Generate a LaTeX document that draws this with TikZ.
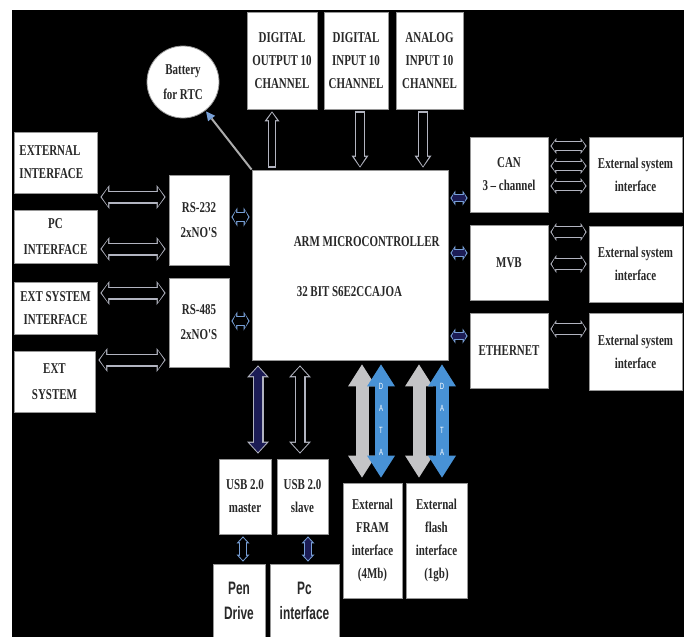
\documentclass[tikz,border=0pt]{standalone}
\usepackage{fontspec}
\newfontfamily\tfont{Liberation Serif}[FakeStretch=0.73]
\newfontfamily\sansc{Liberation Sans}[FakeStretch=0.66]
\usetikzlibrary{arrows.meta,calc}
\definecolor{edgec}{RGB}{178,180,192}
\definecolor{bluedge}{RGB}{120,160,215}
\definecolor{navyfill}{RGB}{28,28,85}
\definecolor{datagray}{RGB}{196,196,198}
\definecolor{datablue}{RGB}{72,146,214}
\definecolor{boxline}{RGB}{150,150,150}
\definecolor{txt}{RGB}{40,40,40}
% #1 gap, #2 direction, #3 from, #4 to, #5 shaft, #6 head width, #7 head length, #8 fill, #9 outline
\newcommand\blockarrow[9][0]{%
  \pgfmathsetmacro\baw{#5-2.6}%
  \pgfmathsetmacro\bah{#6-5}%
  \pgfmathsetmacro\bal{#7-2.6}%
  \pgfmathsetmacro\bag{#1+1.4}%
  \draw[#2, >={Triangle[length=#7pt,width=#6pt,line width=0pt]}, line width=#5pt, draw=#9,
        shorten <=#1pt, shorten >=#1pt] #3 -- #4;
  \draw[#2, >={Triangle[length=\bal pt,width=\bah pt,line width=0pt]}, line width=\baw pt, draw=#8,
        shorten <=\bag pt, shorten >=\bag pt] #3 -- #4;
}
\begin{document}
\begin{tikzpicture}[x=1pt,y=-1pt,
  box/.style={draw=boxline, line width=0.8pt, fill=white, inner sep=0pt, align=center, text=txt,
    font=\tfont\bfseries\fontsize{15}{23}\selectfont},
  sbox/.style={box, font=\sansc\bfseries\fontsize{18}{25}\selectfont},
  dataarrow/.style={<->, >={Triangle[length=22pt,width=28pt,line width=0pt]}, line width=13pt,
    shorten <=4pt, shorten >=5pt},
  letter/.style={text=white, font=\sansc\fontsize{9}{9}\selectfont, inner sep=0pt}]
\useasboundingbox (0,0) rectangle (686,637);
\fill[white] (0,0) rectangle (686,637);
\fill[black] (12,10) rectangle (684,637);

% ---------- boxes ----------
\node[box, minimum width=70, minimum height=97] (dout) at (282,60.5) {DIGITAL\\OUTPUT 10\\CHANNEL};
\node[box, minimum width=64, minimum height=97] (din) at (356,60.5) {DIGITAL\\INPUT 10\\CHANNEL};
\node[box, minimum width=67, minimum height=97] (ain) at (429.5,60.5) {ANALOG\\INPUT 10\\CHANNEL};
\node[box, circle, minimum size=72, font=\tfont\bfseries\fontsize{15}{25}\selectfont] (batt) at (183,82) {Battery\\for RTC};

\node[box, minimum width=83, minimum height=61, align=left, text width=72] (ext1) at (55.5,162.5) {EXTERNAL\\INTERFACE};
\node[box, minimum width=83, minimum height=53, font=\tfont\bfseries\fontsize{15}{26}\selectfont] (pc) at (55.5,236.5) {PC\\INTERFACE};
\node[box, minimum width=83, minimum height=52] (extsi) at (55.5,308) {EXT SYSTEM\\INTERFACE};
\node[box, minimum width=81, minimum height=61, font=\tfont\bfseries\fontsize{15}{26}\selectfont] (extsys) at (54.5,381.5) {EXT\\SYSTEM};

\node[box, minimum width=60, minimum height=90, font=\tfont\bfseries\fontsize{15}{25}\selectfont] (rs232) at (199,220) {RS-232\\2xNO'S};
\node[box, minimum width=60, minimum height=89, font=\tfont\bfseries\fontsize{15}{25}\selectfont] (rs485) at (199,322.5) {RS-485\\2xNO'S};

\node[box, minimum width=196, minimum height=190] (arm) at (350,265) {};
\node[anchor=west, text=txt, inner sep=0pt, font=\tfont\bfseries\fontsize{15}{23}\selectfont] (armt1) at ($(arm.west)+(42,-23)$) {ARM MICROCONTROLLER};
\node[anchor=west, text=txt, inner sep=0pt, font=\tfont\bfseries\fontsize{15}{23}\selectfont] (armt2) at ($(arm.west)+(45,27)$) {32 BIT S6E2CCAJOA};

\node[box, minimum width=78, minimum height=75] (can) at (509,174.5) {CAN\\3 – channel};
\node[box, minimum width=78, minimum height=75] (mvb) at (509,262.5) {MVB};
\node[box, minimum width=78, minimum height=75] (eth) at (509,350.5) {ETHERNET};
\node[box, minimum width=93, minimum height=75] (es1) at (635.5,174.5) {External system\\interface};
\node[box, minimum width=93, minimum height=76] (es2) at (635.5,264) {External system\\interface};
\node[box, minimum width=93, minimum height=77] (es3) at (635.5,351.5) {External system\\interface};

\node[box, minimum width=52, minimum height=75] (usbm) at (245,496.5) {USB 2.0\\master};
\node[box, minimum width=51, minimum height=75] (usbs) at (302.5,496.5) {USB 2.0\\slave};
\node[sbox, minimum width=52, minimum height=73] (pen) at (239,600.5) {Pen\\Drive};
\node[sbox, minimum width=69, minimum height=73] (pci) at (304.5,600.5) {Pc\\interface};
\node[box, minimum width=59, minimum height=115] (fram) at (372.5,540.5) {External\\FRAM\\interface\\(4Mb)};
\node[box, minimum width=61, minimum height=115] (flash) at (436.5,540.5) {External\\flash\\interface\\(1gb)};

% ---------- connectors ----------
% battery
\draw[line width=2pt, draw=gray!65, shorten >=1pt,
  -{Triangle[length=9pt,width=9pt,line width=0pt,color=bluedge]}] (arm.north west) -- (batt);

% left side
\blockarrow[3]{<->}{(ext1.east |- 0,197)}{(rs232.west |- 0,197)}{13}{24}{9}{black}{edgec}
\blockarrow[3]{<->}{(pc.east |- 0,249)}{(rs232.west |- 0,249)}{13}{24}{9}{black}{edgec}
\blockarrow[3]{<->}{(extsi.east |- 0,293)}{(rs485.west |- 0,293)}{13}{24}{9}{black}{edgec}
\blockarrow[3]{<->}{(extsys.east |- 0,360)}{(rs485.west |- 0,360)}{13}{24}{9}{black}{edgec}

% RS -> ARM
\blockarrow[2]{<->}{(rs232.east |- 0,217)}{(arm.west |- 0,217)}{10}{19}{6}{black}{bluedge}
\blockarrow[2]{<->}{(rs485.east |- 0,321)}{(arm.west |- 0,321)}{10}{19}{6}{black}{bluedge}

% ARM -> right
\blockarrow[2]{<->}{(arm.east |- 0,198)}{(can.west |- 0,198)}{8}{15}{5}{navyfill}{bluedge}
\blockarrow[2]{<->}{(arm.east |- 0,253)}{(mvb.west |- 0,253)}{8}{15}{5}{navyfill}{bluedge}
\blockarrow[2]{<->}{(arm.east |- 0,336)}{(eth.west |- 0,336)}{8}{15}{5}{navyfill}{bluedge}

% right boxes -> external system interfaces
\blockarrow[2]{<->}{(can.east |- 0,146)}{(es1.west |- 0,146)}{10}{16}{6}{black}{edgec}
\blockarrow[2]{<->}{(can.east |- 0,166)}{(es1.west |- 0,166)}{10}{16}{6}{black}{edgec}
\blockarrow[2]{<->}{(can.east |- 0,186)}{(es1.west |- 0,186)}{10}{16}{6}{black}{edgec}
\blockarrow[2]{<->}{(mvb.east |- 0,232)}{(es2.west |- 0,232)}{12}{18}{6}{black}{edgec}
\blockarrow[2]{<->}{(mvb.east |- 0,264)}{(es2.west |- 0,264)}{12}{18}{6}{black}{edgec}
\blockarrow[2]{<->}{(eth.east |- 0,329)}{(es3.west |- 0,329)}{12}{18}{6}{black}{edgec}

% top
\blockarrow[2]{->}{(arm.north -| 272,0)}{(dout.south -| 272,0)}{8}{15}{10}{black}{edgec}
\blockarrow[2]{->}{(din.south -| 360,0)}{(arm.north -| 360,0)}{10}{17}{12}{black}{edgec}
\blockarrow[2]{->}{(ain.south -| 423,0)}{(arm.north -| 423,0)}{10}{17}{12}{black}{edgec}

% bottom USB
\blockarrow[5]{<->}{(arm.south -| 258,0)}{(usbm.north -| 258,0)}{11}{22}{12}{navyfill}{edgec}
\blockarrow[5]{<->}{(arm.south -| 300,0)}{(usbs.north -| 300,0)}{11}{22}{12}{black}{edgec}
\blockarrow[2]{<->}{(usbm.south -| 243,0)}{(pen.north -| 243,0)}{8}{13}{7}{black}{bluedge}
\blockarrow[2]{<->}{(usbs.south -| 308,0)}{(pci.north -| 308,0)}{8}{13}{7}{navyfill}{bluedge}

% DATA arrows
\draw[dataarrow, draw=datagray] (arm.south -| 362,0) -- (fram.north -| 362,0);
\draw[dataarrow, draw=datablue] (arm.south -| 381,0) -- (fram.north -| 381,0);
\draw[dataarrow, draw=datagray] (arm.south -| 419,0) -- (flash.north -| 419,0);
\draw[dataarrow, draw=datablue] (arm.south -| 442,0) -- (flash.north -| 442,0);
\foreach \xx/\nm in {381/a, 442/b}{
  \node[letter] (d\nm1) at (\xx,386) {D};
  \node[letter] (d\nm2) at (\xx,408) {A};
  \node[letter] (d\nm3) at (\xx,430) {T};
  \node[letter] (d\nm4) at (\xx,452) {A};
}
\end{tikzpicture}
\end{document}
